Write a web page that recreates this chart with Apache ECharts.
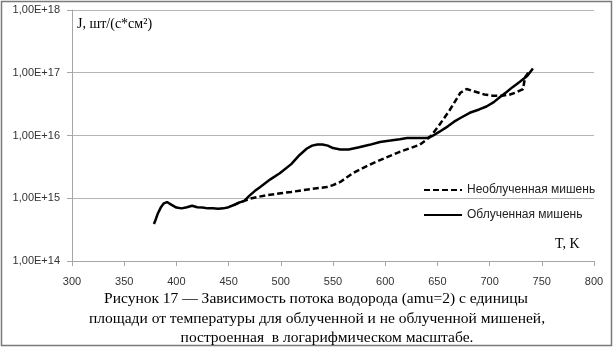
<!DOCTYPE html>
<html><head><meta charset="utf-8">
<script src="https://cdn.jsdelivr.net/npm/echarts@6/dist/echarts.min.js"></script>
<style>html,body{margin:0;padding:0;background:#fff}#c{width:614px;height:348px}</style>
</head><body><div id="c"></div>
<script>
// Облученная мишень (solid)
const irrT = [378.5,380,382,385,388,391,395,400,405,410,415,420,425,430,435,440,445,450,455,460,465,470,475,480,490,499,510,518,525,530,535,540,545,550,557,565,575,585,595,605,614,621,630,640,646,652,660,666,672,681,690,697,704,710,716,722,729,736,741.5];
const irrJ = [3.9e14,4.5e14,5.6e14,7.1e14,8.3e14,8.7e14,7.9e14,7.1e14,6.9e14,7.2e14,7.6e14,7.2e14,7.1e14,6.9e14,6.9e14,6.8e14,6.9e14,7.2e14,7.8e14,8.5e14,9.1e14,1.1e15,1.3e15,1.5e15,2.0e15,2.5e15,3.5e15,4.9e15,6.2e15,6.9e15,7.2e15,7.2e15,6.9e15,6.3e15,6.0e15,6.0e15,6.5e15,7.1e15,7.9e15,8.3e15,8.7e15,9.1e15,9.1e15,9.1e15,1.0e16,1.15e16,1.4e16,1.66e16,1.9e16,2.3e16,2.6e16,2.9e16,3.4e16,4.1e16,4.9e16,5.9e16,7.2e16,8.9e16,1.17e17];
// Необлученная мишень (dashed)
const unT = [455,460,465,470,478,487,500,510,518,530,544,550,557,563,569,578,588,600,614,624,633,643,652,662,672,678,688,695,703,712,719.5,726,732,734,737];
const unJ = [7.8e14,8.5e14,9.1e14,9.8e14,1.05e15,1.12e15,1.2e15,1.26e15,1.32e15,1.41e15,1.51e15,1.62e15,1.82e15,2.14e15,2.5e15,3.0e15,3.6e15,4.4e15,5.5e15,6.3e15,7.1e15,9.5e15,1.48e16,2.57e16,4.8e16,5.5e16,4.9e16,4.5e16,4.3e16,4.3e16,4.5e16,4.9e16,5.5e16,8.5e16,1.0e17];
const seriesNames = ['Необлученная мишень','Облученная мишень'];
const xTicks = {min:300, max:800, step:50};
const yTicks = {min:1e14, max:1e18};
const captionLines = ['Рисунок 17 — Зависимость потока водорода (amu=2) с единицы','площади от температуры для облученной и не облученной мишеней,','построенная  в логарифмическом масштабе.'];
const yName = 'J, шт/(с*см²)';
const xName = 'T, K';

const sans = '"Liberation Sans", Arial, sans-serif';
const serif = '"Liberation Serif", "Times New Roman", serif';
const chart = echarts.init(document.getElementById('c'));
chart.setOption({
  animation:false,
  grid:{left:72,right:20,top:10,bottom:87},
  xAxis:{type:'value',min:xTicks.min,max:xTicks.max,interval:xTicks.step,
    axisLine:{lineStyle:{color:'#a6a6a6'}},
    axisTick:{show:true,length:5,lineStyle:{color:'#a6a6a6'}},
    splitLine:{show:false},
    axisLabel:{fontFamily:sans,fontSize:11,color:'#333',margin:15}},
  yAxis:{type:'log',logBase:10,min:yTicks.min,max:yTicks.max,
    axisLine:{show:true,lineStyle:{color:'#a6a6a6'}},
    axisTick:{show:true,length:5,lineStyle:{color:'#a6a6a6'}},
    splitLine:{show:true,lineStyle:{color:'#b4b4b4'}},
    minorTick:{show:false},
    axisLabel:{fontFamily:sans,fontSize:11,color:'#333',margin:12,
      formatter:v=>'1,00E+'+Math.round(Math.log10(v))}},
  legend:{orient:'vertical',left:418,top:179,itemWidth:38,itemHeight:10,itemGap:13,
    itemStyle:{opacity:0},
    textStyle:{fontFamily:sans,fontSize:12,color:'#222'},data:seriesNames},
  series:[
    {name:seriesNames[0],type:'line',symbol:'none',smooth:false,
      lineStyle:{color:'#000',width:2.5,type:[6,3]},itemStyle:{color:'#000'},
      data:unT.map((t,i)=>[t,unJ[i]])},
    {name:seriesNames[1],type:'line',symbol:'none',smooth:false,
      lineStyle:{color:'#000',width:2.5},itemStyle:{color:'#000'},
      data:irrT.map((t,i)=>[t,irrJ[i]])}
  ],
  graphic:[
    {type:'rect',shape:{x:1.5,y:1.5,width:610,height:344},style:{fill:'none',stroke:'#7a7a7a',lineWidth:1.5},silent:true},
    {type:'text',left:77,top:17,style:{text:yName,font:'14px '+serif,fill:'#000'}},
    {type:'text',left:555,top:237,style:{text:xName,font:'14px '+serif,fill:'#000'}},
    {type:'text',x:316,y:299,style:{text:captionLines[0],font:'15.5px '+serif,fill:'#000',align:'center',verticalAlign:'middle'}},
    {type:'text',x:317,y:319,style:{text:captionLines[1],font:'15.5px '+serif,fill:'#000',align:'center',verticalAlign:'middle'}},
    {type:'text',x:327,y:338,style:{text:captionLines[2],font:'15.5px '+serif,fill:'#000',align:'center',verticalAlign:'middle'}}
  ]
});
</script></body></html>
